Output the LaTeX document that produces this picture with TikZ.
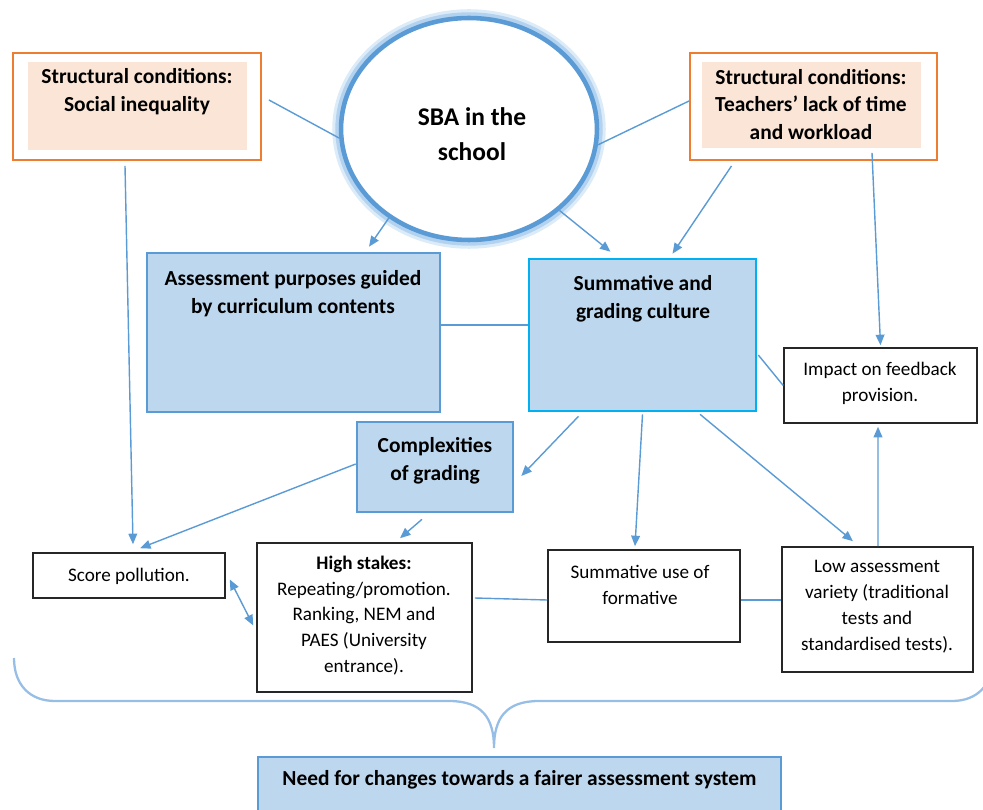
\documentclass[tikz,border=0pt]{standalone}
\usepackage{fontspec}
\setmainfont{Carlito}
\usetikzlibrary{shapes.geometric,arrows.meta,calc}

\definecolor{linkblue}{RGB}{91,155,213}
\definecolor{glowblue}{RGB}{178,210,240}
\definecolor{boxfill}{RGB}{189,215,238}
\definecolor{boxline}{RGB}{91,155,213}
\definecolor{cyanline}{RGB}{0,176,240}
\definecolor{orangeline}{RGB}{237,125,49}
\definecolor{peachfill}{RGB}{251,229,214}
\definecolor{bracecol}{RGB}{150,190,230}

\tikzset{
  head/.style={font=\fontsize{12.2}{15.8}\selectfont\bfseries,align=center,inner sep=0pt},
  plain/.style={font=\fontsize{10.9}{14.7}\selectfont,align=center,inner sep=0pt},
  bluebox/.style={draw=boxline,fill=boxfill,line width=1.5pt,inner sep=0pt},
  whitebox/.style={draw=black!85,fill=white,line width=0.9pt,inner sep=0pt},
  orangebox/.style={draw=orangeline,fill=white,line width=1.1pt,inner sep=0pt},
  peachbox/.style={fill=peachfill,inner sep=0pt},
  link/.style={draw=linkblue,line width=0.8pt},
  arr/.style={link,-{Triangle[length=6pt,width=5pt]}},
}

\begin{document}
\begin{tikzpicture}[x=0.02cm,y=-0.02cm]
\clip (0,0) rectangle (983,810);

% structural conditions
\node[orangebox,minimum width=4.96cm,minimum height=2.14cm] (si) at (137,106.5) {};
\node[peachbox,minimum width=4.38cm,minimum height=1.76cm] (si-in) at (137.5,106) {};
\node[head] (si-text) at (137,91.5) {Structural conditions:\\Social inequality};

\node[orangebox,minimum width=4.94cm,minimum height=2.14cm] (tl) at (813.5,106.5) {};
\node[peachbox,minimum width=4.38cm,minimum height=1.72cm] (tl-in) at (811.5,105) {};
\node[head] (tl-text) at (811,104.5) {Structural conditions:\\Teachers’ lack of time\\and workload};

% SBA circle with soft halo
\node[ellipse,draw=linkblue,line width=2.6pt,fill=white,
      preaction={draw=glowblue!45,line width=10pt},
      preaction={draw=glowblue,line width=6.5pt},
      minimum width=5.12cm,minimum height=4.44cm] (sba) at (469,129) {};
\node[head,font=\fontsize{14.5}{20}\selectfont\bfseries] (sba-text) at (472,134.5) {SBA in the\\school};

% middle row
\node[bluebox,minimum width=5.86cm,minimum height=3.18cm] (apc) at (293.5,332.5) {};
\node[head] (apc-text) at (293,294) {Assessment purposes guided\\by curriculum contents};

\node[bluebox,draw=cyanline,minimum width=4.54cm,minimum height=3.04cm] (sgc) at (642.5,335) {};
\node[head] (sgc-text) at (643,299) {Summative and\\grading culture};

\node[whitebox,minimum width=3.86cm,minimum height=1.50cm] (if) at (880.5,385.5) {};
\node[plain] (if-text) at (880,383) {Impact on feedback\\provision.};

\node[bluebox,minimum width=3.12cm,minimum height=1.80cm] (cg) at (435,467) {};
\node[head] (cg-text) at (435,460.5) {Complexities\\of grading};

% bottom row
\node[whitebox,minimum width=3.84cm,minimum height=0.90cm] (sp) at (129,575.5) {};
\node[plain] (sp-text) at (129,576) {Score pollution.};

\node[whitebox,minimum width=4.30cm,minimum height=2.98cm] (hs) at (364.5,617.5) {};
\node[plain] (hs-text) at (364,615.5) {\textbf{High stakes:}\\Repeating/promotion.\\Ranking, NEM and\\PAES (University\\entrance).};

\node[whitebox,minimum width=3.84cm,minimum height=1.84cm] (su) at (644,596) {};
\node[plain] (su-text) at (640,585) {Summative use of\\formative};

\node[whitebox,minimum width=3.82cm,minimum height=2.50cm] (la) at (877.5,609.5) {};
\node[plain] (la-text) at (877,606.5) {Low assessment\\variety (traditional\\tests and\\standardised tests).};

\node[bluebox,minimum width=10.46cm,minimum height=1.46cm] (need) at (519.5,793.5) {};
\node[head] (need-text) at (519.5,780) {Need for changes towards a fairer assessment system};

% connectors
\draw[link] ($(si.east)+(7,-6.5)$) -- (sba.184);
\draw[link] (sba.-7) -- ($(tl.west)+(0,-5.5)$);
\draw[arr] ($(si.south)+(-12,5)$) -- ($(sp.north)+(4,-8)$);
\draw[arr] (sba.228) -- ($(apc.north)+(75.5,-5)$);
\draw[arr] (sba.-42) -- ($(sgc.north)+(-32,-6)$);
\draw[arr] ($(tl.south)+(-82,5)$) -- ($(sgc.north)+(30,-4)$);
\draw[arr] ($(tl.south)+(58.5,-8)$) -- ($(if.north)+(0,-2)$);
\draw[link] ($(apc.east)+(0,-7.5)$) -- ($(sgc.west)+(0,-10)$);
\draw[link] ($(sgc.east)+(1,20)$) -- (if.west);
\draw[arr] ($(sgc.south)+(-64,4)$) -- ($(cg.east)+(7,9)$);
\draw[arr] ($(sgc.south)+(0,2)$) -- ($(su.north)+(-9,-3)$);
\draw[arr] ($(sgc.south)+(57.5,2)$) -- ($(la.north)+(-24.5,-5)$);
\draw[arr] ($(la.north)+(0.5,0)$) -- ($(if.south)+(-2.5,3)$);
\draw[arr] ($(cg.west)+(0,-3)$) -- ($(sp.north)+(11,-4)$);
\draw[arr] ($(cg.south)+(-13,6)$) -- ($(hs.north)+(35.5,-4)$);
\draw[link,{Triangle[length=6pt,width=5pt]}-{Triangle[length=6pt,width=5pt]}] ($(sp.east)+(4,4)$) -- ($(hs.west)+(-3,8)$);
\draw[link] ($(hs.east)+(2,-19.5)$) -- ($(su.west)+(0,4)$);
\draw[link] ($(su.east)+(0,4)$) -- ($(la.west)+(0,-9.5)$);

% brace over the bottom row
\draw[bracecol,line width=1.3pt] (14,658) .. controls (14,685) and (30,701) .. (55,701) -- (449,701)
  .. controls (482,701) and (494,718) .. (494,748)
  .. controls (494,718) and (506,701) .. (539,701) -- (952,701)
  .. controls (977,701) and (993,685) .. (993,658);
\end{tikzpicture}
\end{document}
